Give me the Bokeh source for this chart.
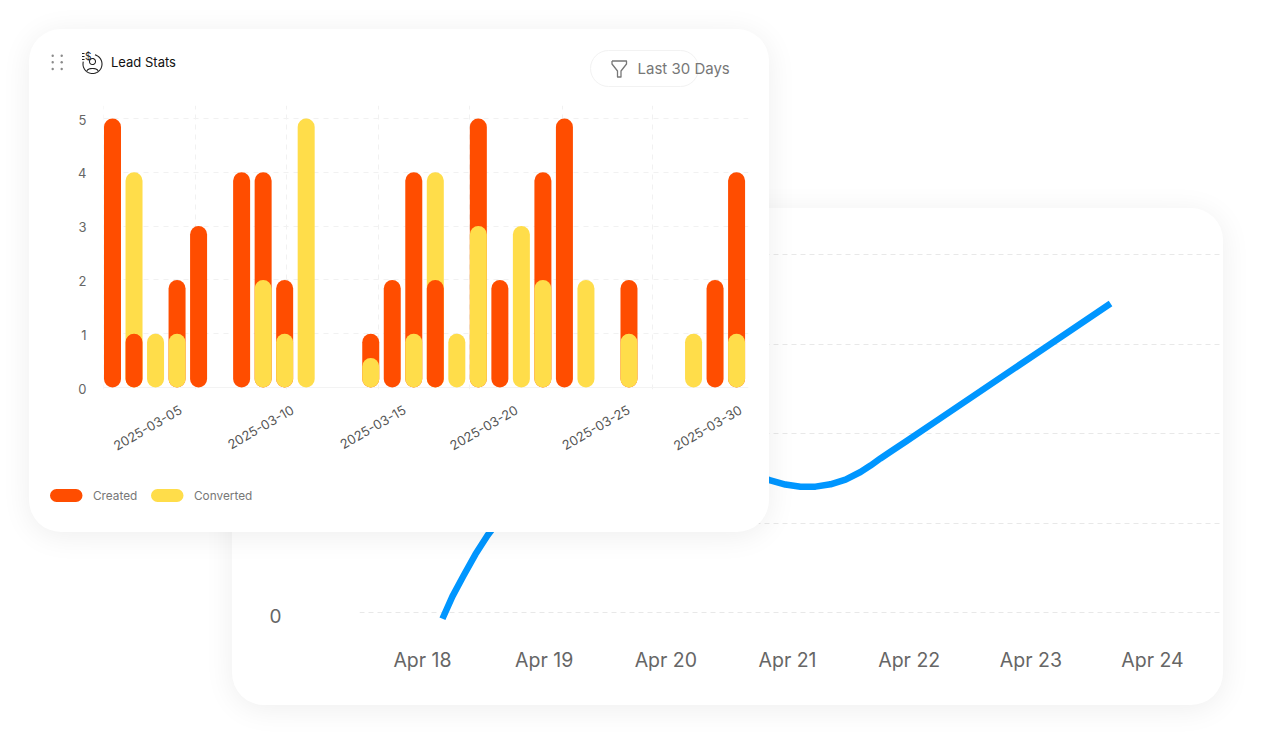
import numpy as np
from bokeh.core.properties import value
from bokeh.embed import file_html
from bokeh.layouts import column
from bokeh.models import ColumnDataSource, FixedTicker, Grid, LinearAxis, Range1d
from bokeh.plotting import figure
from bokeh.resources import INLINE

# ---- data ----
created = [5, 1, 0, 2, 3, 0, 4, 4, 2, 0, 0, 0, 1, 2, 4, 2, 0, 5, 2, 0, 4, 5, 0, 0, 2, 0, 0, 0, 2, 4]
converted = [0, 4, 1, 1, 0, 0, 0, 2, 1, 5, 0, 0, 0.55, 0, 1, 4, 1, 3, 0, 3, 2, 0, 2, 0, 1, 0, 0, 1, 0, 1]
date_ticks = [5, 10, 15, 20, 25, 30]
date_labels = ["2025-03-05", "2025-03-10", "2025-03-15", "2025-03-20", "2025-03-25", "2025-03-30"]
lead_ticks = [0, 1, 2, 3, 4, 5]
lead_grid_x = [-0.42, 3.84, 8.1, 12.36, 16.6, 20.9, 25.1]

line_day = [18.164, 18.246, 18.337, 18.435, 18.534, 18.72, 18.97, 19.30, 19.63, 19.96, 20.28, 20.61,
            20.852, 20.983, 21.107, 21.230, 21.353, 21.477, 21.600, 21.682, 21.764, 21.846,
            21.970, 22.258, 22.973, 23.655]
line_val = [-0.07, 0.18, 0.41, 0.65, 0.86, 1.20, 1.53, 1.75, 1.81, 1.75, 1.64, 1.54,
            1.480, 1.430, 1.405, 1.406, 1.432, 1.485, 1.570, 1.642, 1.721, 1.796,
            1.908, 2.172, 2.827, 3.453]
day_ticks = [18, 19, 20, 21, 22, 23, 24]
day_labels = ["Apr 18", "Apr 19", "Apr 20", "Apr 21", "Apr 22", "Apr 23", "Apr 24"]
value_ticks = [0, 1, 2, 3, 4]
value_label_ticks = [0]

RED, YELLOW, BLUE = "#FF4D00", "#FFDD4A", "#0096FF"
FONT = "Inter"
CARD = {"background-color": "#ffffff", "border-radius": "32px",
        "box-shadow": "0 4px 30px rgba(0,0,0,0.07)"}

# ---- back card: line chart ----
big = figure(width=991, height=497, output_backend="svg", toolbar_location=None,
             x_axis_location=None, y_axis_location=None, frame_align=False,
             x_range=Range1d(18 + (359 - 422) / 121.67, 18 + (1223 - 422) / 121.67),
             y_range=Range1d((612 - 625) / 89.5, (612 - 215) / 89.5),
             min_border_left=127, min_border_right=0, min_border_top=7, min_border_bottom=80,
             background_fill_color=None, border_fill_color=None, outline_line_color=None,
             margin=(208, 0, 0, 232), styles=CARD)
big.xgrid.visible = False
big.ygrid.visible = False
big.extra_y_ranges["tick_labels"] = Range1d((615 - 625) / 89.5, (615 - 215) / 89.5)
big.add_layout(Grid(dimension=1, ticker=FixedTicker(ticks=value_ticks), grid_line_color="#e8e8e8",
                    grid_line_dash="5 4", grid_line_width=1))
big.add_layout(LinearAxis(y_range_name="tick_labels", ticker=FixedTicker(ticks=value_label_ticks),
                          axis_line_color=None, major_tick_line_color=None, minor_tick_line_color=None,
                          major_label_text_font=FONT, major_label_text_font_size="19px",
                          major_label_text_color="#666666", major_label_standoff=72), "left")
big.add_layout(LinearAxis(ticker=FixedTicker(ticks=day_ticks),
                          major_label_overrides=dict(zip(day_ticks, day_labels)),
                          axis_line_color=None, major_tick_line_color=None, minor_tick_line_color=None,
                          major_label_text_font=FONT, major_label_text_font_size="19.5px",
                          major_label_text_color="#666666", major_label_standoff=16), "below")
big.line(line_day, line_val, line_color=BLUE, line_width=6.5, line_cap="butt", line_join="round")

# ---- front card: bar chart ----
small = figure(width=740, height=503, output_backend="svg", toolbar_location=None,
               x_axis_location=None, y_axis_location=None, frame_align=False,
               x_range=Range1d((103 - 112) / 21.52, (748 - 112) / 21.52),
               y_range=Range1d(-2 / 53.8, 282 / 53.8),
               min_border_left=74, min_border_right=21, min_border_top=76, min_border_bottom=143,
               background_fill_color=None, border_fill_color=None, outline_line_color=None,
               margin=(29 - 705, 0, 0, 29), styles=CARD)
small.xgrid.visible = False
small.ygrid.visible = False
small.extra_x_ranges["date_labels"] = Range1d(5 + (103 - 180) / 22.4, 5 + (748 - 180) / 22.4)
small.extra_y_ranges["lead_labels"] = Range1d(-1 / 53.8, 283 / 53.8)
GRID = dict(grid_line_color="#f1f1f1", grid_line_dash="5 5", grid_line_width=1)
small.add_layout(Grid(dimension=1, ticker=FixedTicker(ticks=lead_ticks[1:]), **GRID))
small.add_layout(Grid(dimension=0, ticker=FixedTicker(ticks=lead_grid_x), **GRID))
small.add_layout(Grid(dimension=1, ticker=FixedTicker(ticks=lead_ticks[:1]),
                      grid_line_color="#f3f3f3", grid_line_width=1))
small.add_layout(LinearAxis(y_range_name="lead_labels", ticker=FixedTicker(ticks=lead_ticks),
                            axis_line_color=None,
                            major_tick_line_color=None, minor_tick_line_color=None,
                            major_label_text_font=FONT, major_label_text_font_size="13px",
                            major_label_text_color="#666666", major_label_standoff=11), "left")
small.add_layout(LinearAxis(x_range_name="date_labels", ticker=FixedTicker(ticks=date_ticks),
                            major_label_overrides=dict(zip(date_ticks, date_labels)),
                            major_label_orientation=0.5236, axis_line_color=None,
                            major_tick_line_color=None, minor_tick_line_color=None,
                            major_label_text_font=FONT, major_label_text_font_size="13px",
                            major_label_text_color="#555555", major_label_standoff=13), "below")


def bars(values, color, keep):
    idx = [i for i, v in enumerate(values) if v > 0 and keep(i)]
    src = ColumnDataSource(dict(x=idx, top=[values[i] for i in idx]))
    small.vbar(x="x", top="top", bottom=0, width=17 / 21.52, source=src, fill_color=color,
               line_color=None, border_radius=9)


# the taller bar of a day sits behind the shorter one
bars(converted, YELLOW, lambda i: converted[i] > created[i])
bars(created, RED, lambda i: True)
bars(converted, YELLOW, lambda i: converted[i] <= created[i])

# ---- header and legend of the front card: a transparent layer in page pixels ----
top = figure(width=740, height=503, output_backend="svg", toolbar_location=None,
             x_axis_location=None, y_axis_location=None, frame_align=False,
             x_range=Range1d(29, 769), y_range=Range1d(532, 29),
             min_border=0, background_fill_color=None, border_fill_color=None,
             outline_line_color=None, margin=(29 - 532, 0, 0, 29))
top.xgrid.visible = False
top.ygrid.visible = False


def label(px, py, text, size, color):
    top.text([px], [py], text=[text], text_font=value(FONT), text_font_size=size,
             text_color=color, text_baseline="middle", text_align="left")


def pill(l, t, r, b, fill, line=None, radius=0):
    top.quad(left=[l], right=[r], top=[t], bottom=[b], fill_color=fill, line_color=line,
             border_radius=radius)


# drag handle
top.scatter([52.2, 52.2, 52.2, 61.2, 61.2, 61.2], [55.2, 61.8, 68.5, 55.2, 61.8, 68.5],
            marker="circle", size=2.4, fill_color="#8a8a8a", line_color=None)
# person-with-dollar icon
INK = "#222222"
a = np.radians(np.linspace(-75, 195, 50))
top.line(92 + 9.5 * np.cos(a), 63.5 + 9.5 * np.sin(a), line_color=INK, line_width=1.1)
a = np.linspace(0, 2 * np.pi, 30)
top.line(92 + 3 * np.cos(a), 61 + 3 * np.sin(a), line_color=INK, line_width=1.1)
a = np.linspace(np.pi, 2 * np.pi, 16)
top.line(92 + 5.5 * np.cos(a), 70.5 + 2.5 * np.sin(a), line_color=INK, line_width=1.1)
label(84.5, 55, "$", "10px", INK)
top.segment([81.5, 81.5, 81.5], [53, 56, 59], [84, 84, 84], [53, 56, 59],
            line_color=INK, line_width=1)
label(110.5, 61.5, "Lead Stats", "13px", "#111111")

# period filter
pill(590, 50, 698, 86, "#ffffff", "#f2f2f2", 18)
top.line([611.5, 626, 626, 620.5, 620.5, 617, 617, 611.5, 611.5],
         [60.5, 60.5, 63.5, 70.5, 76.5, 76.5, 70.5, 63.5, 60.5], line_color="#777777",
         line_width=1.3, line_join="round")
label(637, 67.5, "Last 30 Days", "15px", "#777777")

# legend
pill(49.5, 488.5, 82, 501.5, RED, None, 7)
label(92.5, 495, "Created", "11.8px", "#777777")
pill(150.5, 488.5, 183, 501.5, YELLOW, None, 7)
label(193.5, 495, "Converted", "11.8px", "#777777")

page = column(big, small, top)
open("out.html", "w").write(file_html(page, INLINE))
